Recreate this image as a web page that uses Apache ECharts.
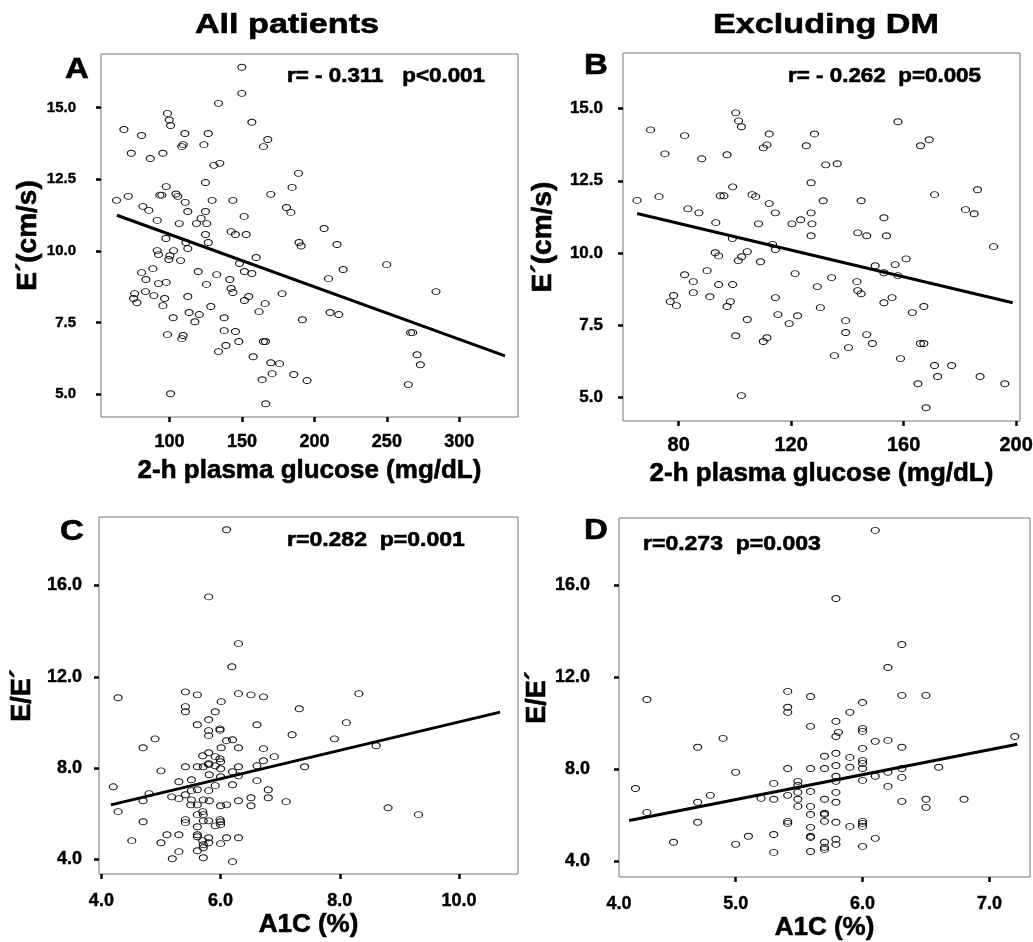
<!DOCTYPE html>
<html>
<head>
<meta charset="utf-8">
<script src="https://cdn.jsdelivr.net/npm/echarts@6/dist/echarts.min.js"></script>
<style>
  html, body { margin: 0; padding: 0; background: #fff; }
  #chart { width: 1033px; height: 942px; }
</style>
</head>
<body>
<div id="chart"></div>
<script>
// A: all patients, 2-h plasma glucose vs E'
var glucoseAll = [149.9,149.9,133.8,98.6,99.8,100.7,156.8,68.5,80.7,110.6,126.7,123.7,109.4,108.5,167.8,164.8,73.6,95.4,86.7,130.6,
  134.7,189.0,124.8,184.6,97.7,63.4,71.5,93.3,94.7,104.4,105.7,169.9,110.8,129.4,143.7,81.6,85.7,112.6,124.8,180.7,
  183.7,151.5,121.8,91.5,106.7,118.6,125.7,206.7,142.5,145.5,152.9,124.8,97.5,126.7,189.4,190.8,215.6,111.3,112.6,91.5,
  92.4,102.8,100.2,99.5,107.6,159.8,249.9,148.3,219.8,88.5,80.7,119.8,151.7,156.8,132.6,83.7,141.6,209.7,92.4,97.7,
  125.5,142.5,143.7,75.9,83.4,283.9,89.2,112.6,154.7,177.7,75.2,96.6,77.5,151.7,166.0,95.4,128.5,161.8,113.5,210.8,
  216.8,120.5,102.5,137.7,117.5,191.7,137.7,145.5,266.4,267.8,98.6,109.4,108.5,147.8,164.8,166.2,138.9,133.8,270.8,157.7,
  169.9,175.9,273.1,170.8,185.7,163.9,194.9,264.8,100.7,166.4];
var eprimeAll = [16.40,15.49,15.14,14.79,14.56,14.37,14.48,14.23,14.02,14.09,14.09,13.70,13.70,13.63,13.88,13.63,13.40,13.40,13.22,12.98,
  13.05,12.70,12.38,12.21,12.24,11.76,11.90,11.94,11.94,11.98,11.90,11.97,11.69,11.76,11.76,11.55,11.41,11.37,11.37,11.51,
  11.34,11.20,11.13,11.06,10.95,10.95,10.95,10.78,10.67,10.57,10.57,10.57,10.43,10.29,10.29,10.17,10.22,10.29,10.08,10.01,
  9.87,10.01,9.83,9.70,9.66,9.77,9.52,9.56,9.35,9.38,9.24,9.28,9.28,9.21,9.17,9.00,9.00,9.03,8.86,8.90,
  8.83,8.69,8.55,8.51,8.58,8.58,8.44,8.41,8.41,8.51,8.34,8.34,8.19,8.27,8.16,8.09,8.06,7.88,7.85,7.85,
  7.78,7.78,7.67,7.67,7.53,7.60,7.22,7.19,7.15,7.15,7.08,7.05,6.94,6.84,6.84,6.84,6.70,6.49,6.38,6.31,
  6.10,6.07,6.03,5.72,5.69,5.51,5.48,5.34,5.02,4.67];
var fitAllX = [63.7, 331.5];
var fitAllY = [11.24, 6.34];

// B: excluding DM, 2-h plasma glucose vs E'
var glucoseNoDM = [100.3,101.3,102.3,158.0,70.0,82.1,112.2,128.3,111.4,110.1,125.4,166.0,169.1,75.1,97.2,88.2,132.3,136.4,127.1,99.2,
  186.3,65.2,73.0,94.8,96.1,106.1,107.4,171.0,131.4,144.9,112.2,83.3,87.2,114.4,127.1,182.0,185.1,153.0,93.2,108.4,
  120.3,123.4,127.4,143.7,146.9,153.9,127.1,99.1,113.4,114.4,192.0,93.0,94.2,104.4,102.4,101.2,109.1,160.9,149.9,157.0,
  90.1,82.1,153.0,158.0,121.4,134.4,85.2,143.4,94.2,99.2,129.3,143.7,144.9,78.2,85.2,91.1,114.4,155.9,77.0,98.4,
  153.0,79.2,97.2,130.4,167.2,163.1,115.3,122.3,104.4,119.3,139.4,139.4,100.3,146.9,111.4,110.1,148.9,166.0,167.2,140.4,
  135.4,158.9,171.0,177.1,172.1,187.2,165.1,196.0,102.3,168.0];
var eprimeNoDM = [14.85,14.57,14.37,14.54,14.26,14.06,14.12,14.12,13.74,13.64,13.71,13.71,13.92,13.43,13.40,13.26,13.05,13.09,12.43,12.29,
  12.19,11.82,11.95,11.98,11.98,12.02,11.95,12.02,11.81,11.81,11.71,11.53,11.39,11.39,11.39,11.50,11.36,11.22,11.05,11.01,
  11.01,11.15,11.01,10.70,10.60,10.60,10.60,10.50,10.30,10.12,10.22,10.01,9.90,10.05,9.87,9.74,9.70,9.80,9.56,9.60,
  9.39,9.25,9.32,9.22,9.29,9.15,9.01,9.01,8.91,8.91,8.84,8.70,8.59,8.53,8.63,8.49,8.46,8.46,8.32,8.32,
  8.28,8.18,8.15,8.11,8.15,7.94,7.87,7.83,7.70,7.56,7.66,7.25,7.14,7.18,7.07,6.94,6.87,6.87,6.87,6.73,
  6.45,6.35,6.11,6.11,5.73,5.73,5.48,5.48,5.07,4.65];
var fitNoDMX = [65.2, 198.8];
var fitNoDMY = [11.37, 8.28];

// C: all patients, A1C vs E/E'
var a1cAll = [6.10,5.80,6.30,6.19,4.28,5.41,5.61,6.30,6.51,6.72,8.32,6.01,5.41,5.41,5.91,7.32,5.80,8.11,5.61,6.61,
  5.99,5.99,5.80,5.80,7.20,4.90,7.91,6.10,6.20,4.70,6.01,6.30,6.72,8.61,5.80,5.70,5.91,6.90,5.99,6.00,
  6.72,5.80,5.80,5.41,5.61,5.71,5.91,6.30,6.61,7.41,5.00,6.00,6.20,5.81,6.00,6.30,5.51,5.30,6.61,5.91,
  6.20,4.20,5.51,5.80,5.61,6.80,4.80,5.41,5.18,5.30,6.80,6.51,4.70,5.51,5.71,5.81,6.30,7.10,5.50,5.61,
  6.00,6.10,6.51,8.81,4.28,5.70,5.61,5.71,9.32,4.70,5.41,5.41,5.71,5.80,5.99,6.00,5.91,6.00,5.61,5.10,
  5.30,5.61,5.61,5.80,6.10,6.30,4.51,5.00,5.80,5.70,5.71,6.00,5.71,5.61,5.30,5.71,5.19,6.20];
var eeAll = [18.44,15.50,13.45,12.44,11.08,11.34,11.21,11.26,11.21,11.12,11.26,10.91,10.69,10.47,10.47,10.60,10.12,9.99,9.90,9.90,
  9.72,9.66,9.64,9.42,9.46,9.28,9.28,9.20,9.24,8.89,8.89,8.89,8.85,8.98,8.67,8.54,8.50,8.50,8.41,8.28,
  8.32,8.19,8.15,8.06,8.06,8.06,8.10,8.06,8.10,8.06,7.88,7.97,7.84,7.71,7.62,7.66,7.49,7.40,7.45,7.23,
  7.27,7.18,7.01,7.01,7.05,7.05,6.88,6.83,6.74,6.66,6.70,6.70,6.57,6.61,6.61,6.57,6.57,6.53,6.39,6.39,
  6.35,6.39,6.35,6.26,6.09,6.09,5.96,5.96,5.96,5.65,5.74,5.61,5.69,5.69,5.74,5.65,5.47,5.52,5.43,5.08,
  5.08,5.08,4.99,4.95,4.95,4.95,4.82,4.73,4.73,4.82,4.64,4.69,4.51,4.38,4.34,4.07,4.03,3.90];
var fitA1cAllX = [4.16, 10.69];
var fitA1cAllY = [6.39, 10.45];

// D: excluding DM, A1C vs E/E'
var a1cNoDM = [6.10,5.79,6.31,6.20,4.30,5.41,5.59,6.31,6.50,6.00,5.41,5.41,5.90,5.79,5.59,6.00,6.00,5.81,5.79,7.20,
  4.90,6.10,6.20,4.70,6.00,6.31,5.79,5.70,5.90,6.00,6.00,5.79,5.41,5.59,5.70,5.90,6.00,6.31,6.60,5.00,
  6.20,5.79,6.10,6.31,5.49,6.00,5.30,5.79,5.49,6.20,4.21,5.59,5.49,5.79,4.80,5.41,5.20,5.30,5.49,5.70,
  6.50,6.80,4.70,5.79,6.31,5.49,5.59,6.50,4.30,5.70,5.70,5.59,5.41,5.41,4.70,5.70,5.79,6.00,6.00,6.00,
  5.90,5.59,5.10,5.30,5.59,5.59,6.10,5.79,4.51,5.00,5.70,5.79,5.70,5.70,6.00,5.30,5.59];
var eeNoDM = [18.39,15.43,13.43,12.43,11.04,11.39,11.17,11.22,11.22,10.91,10.70,10.48,10.48,10.09,9.87,9.78,9.65,9.61,9.43,9.43,
  9.35,9.22,9.26,8.96,8.91,8.96,8.70,8.57,8.52,8.39,8.26,8.17,8.04,8.04,8.04,8.09,8.04,8.04,8.09,7.87,
  7.87,7.70,7.70,7.65,7.48,7.52,7.39,7.48,7.30,7.26,7.17,7.04,7.00,7.00,6.87,6.87,6.74,6.70,6.70,6.70,
  6.70,6.70,6.57,6.57,6.61,6.39,6.39,6.35,6.13,6.09,6.04,6.04,5.74,5.65,5.70,5.74,5.70,5.74,5.65,5.52,
  5.52,5.48,5.09,5.17,5.09,5.04,5.00,4.96,4.83,4.74,4.83,4.74,4.61,4.52,4.65,4.39,4.43];
var fitA1cNoDMX = [4.16, 7.22];
var fitA1cNoDMY = [5.78, 9.09];

// tick values
var glucoseTicksAll = [100, 150, 200, 250, 300];
var glucoseTicksNoDM = [80, 120, 160, 200];
var eprimeTicks = [5, 7.5, 10, 12.5, 15];
var eeTicks = [4, 8, 12, 16];
var a1cTicksAll = [4, 6, 8, 10];
var a1cTicksNoDM = [5, 6, 7];

var FONT = '"Liberation Sans", Arial, Helvetica, sans-serif';

function zip(xs, ys) {
    return xs.map(function (x, i) { return [x, ys[i]]; });
}

function fmt1(v) { return v.toFixed(1); }

// one value axis, ticks only at given values
function axis(idx, min, max, ticks, labelSize, margin, name, nameSize, nameGap, labelVals, fmt) {
    return {
        type: 'value',
        gridIndex: idx,
        min: min,
        max: max,
        axisLine: { show: false },
        splitLine: { show: false },
        axisTick: {
            show: true,
            customValues: ticks,
            length: 5,
            lineStyle: { color: '#000', width: 2.5 }
        },
        axisLabel: {
            customValues: labelVals || ticks,
            formatter: fmt || fmt1,
            margin: margin,
            color: '#000',
            fontWeight: 'bold',
            fontSize: labelSize,
            fontFamily: FONT,
            textBorderColor: '#000',
            textBorderWidth: 0.4
        },
        name: name,
        nameLocation: 'middle',
        nameGap: nameGap,
        nameTextStyle: {
            color: '#000',
            fontWeight: 'bold',
            fontSize: nameSize,
            fontFamily: FONT,
            textBorderColor: '#000',
            textBorderWidth: 0.6
        }
    };
}

function dots(idx, xs, ys) {
    return {
        type: 'scatter',
        xAxisIndex: idx,
        yAxisIndex: idx,
        data: zip(xs, ys),
        symbol: 'path://M1,0A1,1,0,1,1,-1,0A1,1,0,1,1,1,0Z',
        symbolSize: [8, 6],
        itemStyle: { color: 'rgba(0,0,0,0)', borderColor: '#111', borderWidth: 1, opacity: 1 },
        silent: true
    };
}

function fit(idx, xs, ys) {
    return {
        type: 'line',
        xAxisIndex: idx,
        yAxisIndex: idx,
        data: zip(xs, ys),
        showSymbol: false,
        symbol: 'none',
        lineStyle: { color: '#000', width: 3 },
        z: 3,
        silent: true
    };
}

function label(text, x, y, size, sx, align) {
    return {
        type: 'text',
        x: x,
        y: y,
        scaleX: sx,
        style: {
            text: text,
            fill: '#000',
            stroke: '#000',
            lineWidth: 0.6,
            font: 'bold ' + size + 'px ' + FONT,
            align: align,
            verticalAlign: 'middle'
        }
    };
}

var gridBase = { show: true, borderColor: '#777', borderWidth: 1, backgroundColor: 'transparent', containLabel: false, outerBoundsMode: 'none' };

var option = {
    animation: false,
    backgroundColor: '#fff',
    grid: [
        Object.assign({ left: 101, top: 54, width: 417, height: 363 }, gridBase),
        Object.assign({ left: 623, top: 53, width: 397, height: 368 }, gridBase),
        Object.assign({ left: 99, top: 517, width: 419, height: 357 }, gridBase),
        Object.assign({ left: 619, top: 518, width: 411, height: 359 }, gridBase)
    ],
    xAxis: [
        axis(0, 52.7, 340.5, glucoseTicksAll, 18, 16, '2-h plasma glucose (mg/dL)', 26, 41, null, function (v) { return String(v); }),
        axis(1, 60.2, 201.4, glucoseTicksNoDM, 20, 14, '2-h plasma glucose (mg/dL)', 26, 40, null, function (v) { return String(v); }),
        axis(2, 3.96, 10.99, a1cTicksAll, 18, 18, 'A1C (%)', 26, 38),
        axis(3, 4.08, 7.32, a1cTicksNoDM, 18, 18, 'A1C (%)', 26, 36,
            [4.08].concat(a1cTicksNoDM), function (v) { return v < 4.5 ? '4.0' : v.toFixed(1); })
    ],
    yAxis: [
        axis(0, 4.21, 16.86, eprimeTicks, 15, 25, 'E´(cm/s)', 28, 58),
        axis(1, 4.19, 16.92, eprimeTicks, 17, 20, 'E´(cm/s)', 28, 66),
        axis(2, 3.36, 19.0, eeTicks, 18, 17, 'E/E´', 27, 63),
        axis(3, 3.32, 18.93, eeTicks, 18, 29, 'E/E´', 27, 62)
    ],
    series: [
        dots(0, glucoseAll, eprimeAll),
        fit(0, fitAllX, fitAllY),
        dots(1, glucoseNoDM, eprimeNoDM),
        fit(1, fitNoDMX, fitNoDMY),
        dots(2, a1cAll, eeAll),
        fit(2, fitA1cAllX, fitA1cAllY),
        dots(3, a1cNoDM, eeNoDM),
        fit(3, fitA1cNoDMX, fitA1cNoDMY)
    ],
    graphic: [
        label('All patients', 287, 25, 28, 1.22, 'center'),
        label('Excluding DM', 826, 25, 28, 1.22, 'center'),
        label('A', 77, 70, 30, 1.1, 'center'),
        label('B', 596, 66, 30, 1.1, 'center'),
        label('C', 72, 532, 30, 1.1, 'center'),
        label('D', 596, 531, 30, 1.1, 'center'),
        label('r= - 0.311   p<0.001', 287, 76, 20, 1.12, 'left'),
        label('r= - 0.262  p=0.005', 788, 76, 20, 1.12, 'left'),
        label('r=0.282  p=0.001', 287, 540, 20, 1.15, 'left'),
        label('r=0.273  p=0.003', 643, 544, 20, 1.15, 'left')
    ]
};

var chart = echarts.init(document.getElementById('chart'));
chart.setOption(option);
</script>
</body>
</html>
